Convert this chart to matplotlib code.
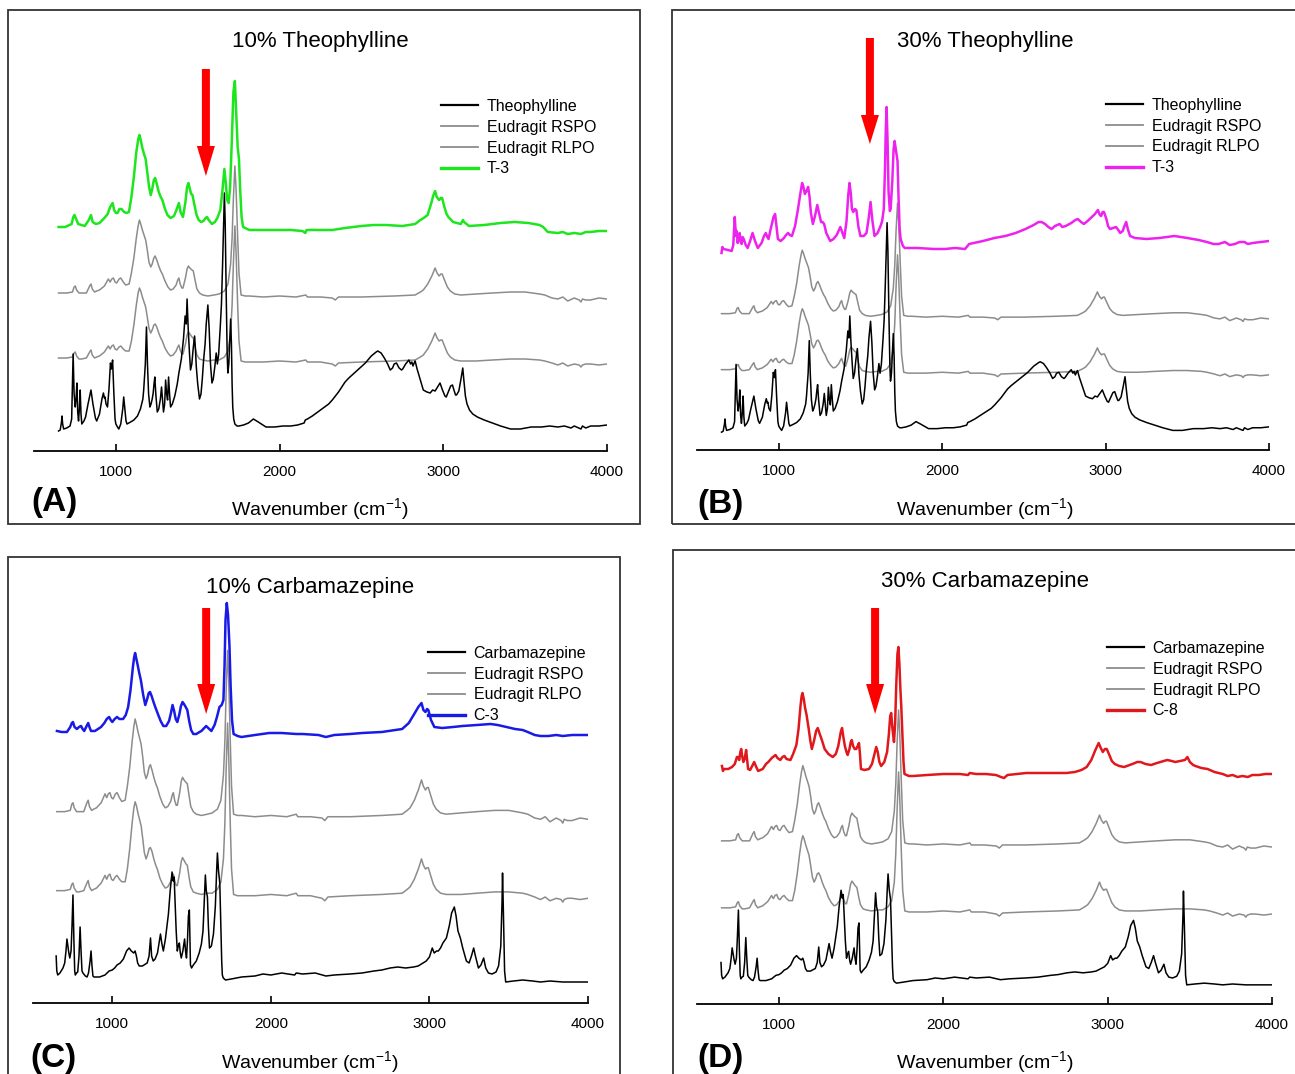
import matplotlib
matplotlib.use('Agg')
import matplotlib.pyplot as plt
from matplotlib.lines import Line2D
from matplotlib.patches import Rectangle

plt.rcParams['font.family'] = ['Liberation Sans', 'DejaVu Sans']
plt.rcParams['mathtext.fontset'] = 'custom'
plt.rcParams['mathtext.rm'] = 'Liberation Sans'
plt.rcParams['mathtext.it'] = 'Liberation Sans:italic'

W, H = 1295, 1074

# ---- spectra: (wavenumber cm-1, height above own baseline, arb. units) ----
theophylline = [
    (650, -7), (660, -6), (668, 2), (671, 8), (675, 0), (681, -5), (700, -4), (720, -2), (730, 5),
    (739, 70), (745, 30), (752, 17), (757, 25), (762, 41), (767, 12), (772, 3), (777, 15), (782, 34),
    (787, 10), (792, 0), (805, 3), (815, 7), (830, 20), (848, 34), (860, 20), (875, 6), (883, 3),
    (900, 10), (915, 25), (924, 31), (930, 26), (934, 27), (940, 20), (949, 17), (958, 35), (967, 61),
    (973, 55), (980, 64), (988, 30), (995, 5), (1000, 0), (1010, -3), (1018, -5), (1030, 0),
    (1042, 15), (1048, 27), (1055, 15), (1062, 3), (1068, 0), (1090, 2), (1110, 4), (1132, 8),
    (1150, 15), (1165, 25), (1170, 34), (1180, 60), (1187, 97), (1193, 60), (1200, 30), (1208, 17),
    (1215, 20), (1222, 25), (1228, 31), (1233, 40), (1238, 47), (1244, 30), (1253, 12), (1262, 15),
    (1272, 25), (1279, 37), (1285, 25), (1291, 12), (1298, 20), (1304, 44), (1310, 30), (1316, 24),
    (1322, 47), (1328, 30), (1334, 17), (1345, 20), (1360, 28), (1375, 40), (1385, 51), (1400, 65),
    (1413, 85), (1423, 108), (1430, 100), (1435, 125), (1442, 95), (1450, 70), (1456, 54),
    (1464, 60), (1472, 75), (1481, 88), (1486, 75), (1491, 58), (1500, 40), (1511, 25), (1520, 30),
    (1528, 45), (1536, 64), (1545, 80), (1552, 100), (1562, 119), (1570, 95), (1578, 60), (1587, 41),
    (1595, 45), (1605, 58), (1613, 71), (1620, 60), (1628, 70), (1638, 98), (1645, 120), (1652, 160),
    (1658, 200), (1663, 231), (1668, 200), (1674, 130), (1680, 70), (1684, 51), (1690, 60),
    (1696, 85), (1701, 105), (1706, 80), (1710, 40), (1714, 17), (1720, 5), (1727, 0), (1740, -2),
    (1752, -2), (1780, -1), (1810, 1), (1840, 5), (1870, 2), (1917, -3), (1970, -3), (2020, -2),
    (2068, -2), (2110, -1), (2150, 1), (2157, 4), (2170, 5), (2200, 8), (2250, 14), (2300, 20),
    (2322, 24), (2360, 32), (2400, 42), (2423, 46), (2450, 50), (2490, 56), (2524, 61), (2560, 68),
    (2590, 72), (2600, 73), (2620, 71), (2640, 66), (2660, 60), (2676, 54), (2690, 56), (2700, 60),
    (2714, 61), (2730, 56), (2745, 54), (2752, 55), (2770, 60), (2790, 64), (2800, 60), (2808, 62),
    (2815, 58), (2822, 61), (2828, 63), (2840, 55), (2860, 44), (2878, 34), (2900, 32), (2920, 31),
    (2935, 34), (2950, 33), (2965, 37), (2980, 41), (2995, 34), (3010, 28), (3018, 27), (3030, 32),
    (3045, 38), (3056, 39), (3065, 34), (3075, 29), (3081, 29), (3095, 33), (3108, 45), (3119, 56),
    (3125, 45), (3135, 28), (3145, 20), (3160, 14), (3180, 10), (3208, 7), (3250, 4), (3300, 1),
    (3350, -2), (3411, -5), (3470, -5), (3537, -3), (3600, -3), (3650, -2), (3700, -3), (3740, -2),
    (3780, -4), (3800, -2), (3841, -5), (3850, -2), (3870, -4), (3900, -2), (3950, -2), (4000, -1)]

carbamazepine = [
    (646, 25), (650, 10), (656, 6), (670, 8), (689, 13), (700, 18), (708, 30), (714, 42), (720, 35),
    (726, 28), (732, 23), (740, 30), (746, 55), (752, 86), (758, 40), (763, 10), (767, 6), (774, 8),
    (782, 9), (790, 25), (797, 54), (803, 30), (809, 10), (815, 8), (830, 5), (841, 4), (850, 8),
    (860, 20), (866, 30), (872, 15), (878, 5), (884, 4), (920, 4), (954, 6), (980, 10), (1000, 11),
    (1015, 13), (1030, 16), (1050, 18), (1070, 22), (1090, 30), (1106, 33), (1120, 30), (1135, 28),
    (1144, 30), (1152, 25), (1160, 18), (1170, 15), (1190, 15), (1210, 17), (1220, 18), (1232, 25),
    (1241, 43), (1248, 25), (1258, 20), (1270, 22), (1285, 28), (1295, 38), (1304, 47), (1312, 38),
    (1322, 30), (1335, 42), (1345, 55), (1354, 67), (1365, 90), (1377, 109), (1384, 100),
    (1390, 104), (1396, 80), (1403, 50), (1410, 30), (1416, 35), (1423, 38), (1429, 28), (1435, 23),
    (1445, 30), (1456, 42), (1462, 30), (1468, 23), (1474, 40), (1480, 65), (1486, 71), (1490, 40),
    (1493, 16), (1500, 13), (1511, 16), (1530, 20), (1548, 28), (1562, 37), (1572, 50), (1580, 80),
    (1587, 106), (1593, 90), (1600, 84), (1606, 55), (1613, 33), (1625, 35), (1638, 47), (1650, 75),
    (1658, 110), (1663, 128), (1670, 110), (1678, 98), (1684, 60), (1690, 20), (1694, 6), (1700, 3),
    (1714, 1), (1750, 2), (1815, 4), (1900, 5), (1950, 7), (2000, 6), (2068, 8), (2150, 6),
    (2160, 8), (2200, 7), (2280, 8), (2347, 5), (2400, 6), (2500, 7), (2575, 8), (2650, 10),
    (2700, 11), (2752, 13), (2800, 14), (2850, 13), (2900, 14), (2929, 15), (2960, 18), (2980, 20),
    (3000, 24), (3018, 33), (3030, 28), (3045, 30), (3056, 30), (3070, 33), (3085, 38), (3107, 43),
    (3125, 55), (3140, 68), (3157, 74), (3168, 65), (3180, 50), (3195, 43), (3210, 33), (3233, 20),
    (3250, 18), (3265, 25), (3279, 33), (3290, 25), (3309, 13), (3325, 16), (3342, 23), (3355, 13),
    (3372, 8), (3395, 7), (3420, 9), (3436, 15), (3450, 35), (3458, 80), (3461, 108), (3465, 80),
    (3469, 47), (3474, 10), (3481, -1), (3530, 0), (3588, 1), (3650, 0), (3700, -1), (3760, 0),
    (3841, -1), (3900, -1), (4000, -1)]

eudragit_rspo = [
    (650, 5), (700, 5), (735, 6), (745, 11), (752, 12), (760, 8), (775, 5), (790, 5), (820, 5),
    (840, 12), (848, 14), (856, 9), (870, 6), (883, 7), (900, 8), (930, 12), (954, 19), (965, 16),
    (975, 19), (985, 20), (995, 16), (1005, 15), (1020, 19), (1030, 20), (1045, 16), (1060, 13),
    (1081, 14), (1095, 25), (1110, 40), (1125, 60), (1136, 72), (1144, 78), (1152, 74), (1162, 68),
    (1172, 63), (1182, 58), (1192, 48), (1202, 36), (1213, 31), (1222, 34), (1232, 40), (1240, 42),
    (1250, 38), (1262, 32), (1274, 27), (1284, 24), (1300, 17), (1318, 11), (1334, 8), (1350, 9),
    (1368, 13), (1378, 18), (1385, 20), (1393, 14), (1403, 10), (1410, 10), (1425, 20), (1435, 29),
    (1443, 32), (1452, 30), (1465, 28), (1473, 27), (1485, 17), (1495, 9), (1511, 5), (1530, 3),
    (1562, 2), (1600, 3), (1630, 4), (1663, 7), (1685, 14), (1701, 34), (1710, 60), (1718, 100),
    (1727, 132), (1734, 110), (1744, 61), (1752, 25), (1765, 3), (1790, 2), (1815, 2), (1900, 1),
    (2000, 2), (2100, 1), (2160, 3), (2170, 1), (2250, 1), (2322, 0), (2340, -2), (2360, 1),
    (2500, 1), (2700, 2), (2828, 3), (2860, 6), (2878, 8), (2905, 14), (2930, 22), (2950, 30),
    (2962, 25), (2975, 22), (2985, 24), (2993, 24), (3010, 17), (3025, 11), (3043, 7), (3070, 4),
    (3107, 3), (3200, 4), (3300, 5), (3411, 6), (3500, 6), (3588, 4), (3620, 3), (3664, 0),
    (3700, -1), (3730, 1), (3760, -3), (3800, 0), (3830, -2), (3841, -4), (3850, -1), (3870, -2),
    (3900, -2), (3950, 0), (4000, -1)]

eudragit_rlpo = [
    (650, 5), (700, 5), (735, 6), (745, 10), (752, 11), (760, 7), (775, 4), (790, 4), (820, 5),
    (840, 11), (848, 13), (856, 8), (870, 5), (883, 6), (900, 7), (930, 11), (954, 17), (965, 14),
    (975, 17), (985, 18), (995, 14), (1005, 13), (1020, 16), (1030, 17), (1045, 14), (1060, 12),
    (1081, 12), (1095, 22), (1110, 38), (1125, 58), (1136, 70), (1144, 75), (1152, 72), (1162, 66),
    (1172, 61), (1182, 56), (1192, 46), (1202, 35), (1213, 30), (1222, 33), (1232, 38), (1240, 39),
    (1250, 36), (1262, 30), (1274, 25), (1284, 22), (1300, 15), (1318, 10), (1334, 7), (1350, 8),
    (1368, 12), (1378, 16), (1385, 18), (1393, 13), (1403, 9), (1410, 9), (1425, 19), (1435, 28),
    (1443, 31), (1452, 29), (1465, 26), (1473, 25), (1485, 15), (1495, 8), (1511, 4), (1530, 3),
    (1562, 2), (1600, 3), (1630, 3), (1663, 6), (1685, 12), (1701, 30), (1710, 58), (1718, 100),
    (1727, 137), (1734, 112), (1744, 58), (1752, 22), (1765, 2), (1790, 1), (1815, 1), (1900, 1),
    (2000, 2), (2100, 1), (2160, 3), (2170, 1), (2250, 1), (2322, -1), (2340, -3), (2360, 0),
    (2500, 1), (2700, 2), (2828, 3), (2860, 6), (2878, 8), (2905, 14), (2930, 22), (2950, 30),
    (2962, 25), (2975, 22), (2985, 23), (2993, 23), (3010, 16), (3025, 10), (3043, 6), (3070, 3),
    (3107, 2), (3200, 2), (3300, 3), (3411, 4), (3500, 4), (3588, 3), (3620, 2), (3664, 0),
    (3700, -2), (3730, 0), (3760, -3), (3800, -1), (3830, -2), (3841, -4), (3850, -2), (3870, -1),
    (3900, -1), (3950, -2), (4000, -1)]

t3_10 = [
    (650, 5), (690, 5), (730, 8), (740, 15), (747, 17), (755, 14), (770, 8), (790, 7), (810, 6),
    (835, 12), (848, 17), (858, 10), (878, 8), (900, 9), (930, 14), (950, 18), (965, 25), (980, 29),
    (990, 22), (1000, 19), (1010, 19), (1022, 23), (1035, 23), (1050, 20), (1065, 19), (1080, 20),
    (1095, 35), (1110, 55), (1125, 80), (1137, 93), (1144, 97), (1152, 92), (1162, 84), (1172, 78),
    (1182, 73), (1192, 60), (1203, 45), (1213, 37), (1222, 43), (1232, 52), (1240, 54), (1250, 48),
    (1262, 40), (1274, 35), (1284, 32), (1298, 24), (1315, 17), (1334, 14), (1355, 16), (1370, 22),
    (1385, 29), (1395, 20), (1410, 15), (1425, 30), (1435, 45), (1443, 49), (1452, 43), (1460, 38),
    (1468, 37), (1480, 27), (1493, 17), (1506, 12), (1520, 10), (1535, 11), (1548, 14), (1557, 15),
    (1567, 12), (1587, 8), (1605, 10), (1620, 14), (1638, 22), (1650, 40), (1663, 63), (1672, 48),
    (1680, 32), (1689, 29), (1698, 45), (1708, 90), (1718, 140), (1727, 151), (1735, 120),
    (1744, 85), (1752, 73), (1760, 40), (1768, 15), (1777, 5), (1815, 2), (1900, 2), (2000, 2),
    (2068, 2), (2140, 1), (2157, -1), (2165, 2), (2250, 2), (2322, 2), (2400, 4), (2500, 6),
    (2575, 7), (2650, 7), (2750, 6), (2828, 8), (2860, 12), (2880, 14), (2904, 17), (2925, 28),
    (2940, 37), (2950, 41), (2960, 35), (2975, 32), (2985, 34), (2993, 34), (3005, 26), (3020, 18),
    (3031, 15), (3060, 10), (3107, 8), (3120, 12), (3127, 10), (3157, 6), (3250, 7), (3350, 9),
    (3436, 10), (3520, 9), (3588, 7), (3610, 5), (3638, 0), (3700, -1), (3730, 0), (3760, -2),
    (3800, -1), (3841, -2), (3870, 0), (3900, 0), (3950, 1), (4000, 1)]

t3_30 = [
    (650, -12), (655, -6), (662, -8), (690, -9), (712, -10), (722, -4), (731, 24), (738, 5),
    (743, 10), (749, -2), (755, 5), (761, 8), (767, -1), (773, -3), (779, 4), (786, 2), (798, -4),
    (810, -7), (825, 0), (840, 8), (855, 0), (872, -7), (895, -2), (910, 5), (921, 8), (930, 4),
    (938, 2), (948, 10), (958, 17), (968, 24), (978, 27), (986, 15), (995, 2), (1012, 0), (1032, 3),
    (1045, 6), (1057, 8), (1068, 6), (1081, 5), (1100, 15), (1118, 32), (1130, 45), (1143, 58),
    (1150, 55), (1160, 47), (1170, 50), (1180, 54), (1188, 45), (1197, 28), (1209, 17), (1222, 25),
    (1236, 36), (1247, 28), (1259, 19), (1268, 19), (1278, 17), (1291, 8), (1303, 4), (1315, 0),
    (1335, 2), (1355, 6), (1377, 14), (1390, 8), (1401, 3), (1415, 20), (1425, 45), (1433, 58),
    (1441, 48), (1448, 32), (1456, 29), (1466, 32), (1475, 31), (1488, 14), (1500, 5), (1520, 5),
    (1537, 8), (1550, 22), (1562, 39), (1572, 22), (1586, 5), (1605, 8), (1623, 15), (1633, 20),
    (1643, 32), (1650, 70), (1655, 110), (1660, 134), (1666, 100), (1672, 50), (1680, 30),
    (1685, 32), (1695, 60), (1703, 92), (1709, 100), (1716, 92), (1727, 80), (1733, 45), (1740, 12),
    (1746, 2), (1760, -5), (1771, -7), (1850, -7), (1950, -8), (2017, -8), (2080, -7), (2140, -8),
    (2150, -6), (2165, -3), (2250, 0), (2320, 3), (2387, 5), (2450, 8), (2510, 12), (2560, 16),
    (2590, 19), (2608, 19), (2630, 17), (2650, 14), (2670, 12), (2690, 15), (2705, 16), (2719, 17),
    (2735, 14), (2756, 15), (2790, 18), (2815, 21), (2830, 22), (2850, 19), (2867, 17), (2890, 20),
    (2916, 24), (2935, 27), (2953, 31), (2965, 26), (2973, 25), (2982, 29), (2990, 29), (3005, 22),
    (3015, 15), (3027, 12), (3045, 13), (3064, 14), (3078, 11), (3089, 8), (3105, 10), (3118, 16),
    (3126, 19), (3136, 12), (3150, 5), (3180, 3), (3249, 2), (3330, 3), (3421, 5), (3500, 3),
    (3569, 1), (3620, -1), (3660, -3), (3692, -3), (3730, -1), (3760, -4), (3791, -3), (3820, -1),
    (3850, -1), (3870, -3), (3900, -2), (3950, -1), (4000, 0)]

c3 = [
    (651, 4), (680, 3), (714, 3), (735, 8), (745, 12), (752, 13), (762, 8), (777, 6), (790, 8),
    (803, 9), (813, 6), (823, 4), (835, 8), (848, 12), (856, 8), (866, 4), (890, 4), (910, 6),
    (929, 8), (950, 12), (965, 16), (980, 18), (990, 15), (1000, 13), (1015, 16), (1030, 18),
    (1045, 16), (1068, 16), (1085, 20), (1100, 28), (1115, 45), (1130, 68), (1138, 78), (1144, 82),
    (1152, 76), (1160, 70), (1170, 62), (1180, 55), (1195, 40), (1208, 30), (1220, 36), (1230, 42),
    (1238, 43), (1248, 39), (1260, 33), (1271, 28), (1290, 20), (1305, 14), (1322, 9), (1340, 9),
    (1358, 14), (1370, 22), (1380, 30), (1390, 24), (1400, 16), (1410, 13), (1422, 20), (1433, 29),
    (1443, 33), (1452, 31), (1463, 28), (1473, 25), (1485, 14), (1497, 5), (1511, 1), (1530, 1),
    (1550, 3), (1562, 4), (1580, 7), (1592, 9), (1605, 7), (1625, 4), (1645, 10), (1660, 18),
    (1676, 28), (1690, 30), (1701, 35), (1708, 70), (1714, 115), (1722, 132), (1730, 120),
    (1739, 89), (1746, 50), (1755, 15), (1765, 1), (1790, -1), (1815, -2), (1900, 0), (1990, 2),
    (2068, 2), (2160, 1), (2200, 1), (2300, 0), (2347, -2), (2400, 0), (2500, 1), (2575, 2),
    (2700, 3), (2828, 6), (2870, 12), (2904, 21), (2930, 28), (2950, 32), (2962, 25), (2975, 23),
    (2985, 26), (2993, 25), (3010, 15), (3031, 8), (3080, 7), (3150, 8), (3208, 9), (3300, 10),
    (3385, 11), (3430, 10), (3486, 8), (3540, 6), (3588, 5), (3620, 3), (3664, 0), (3700, -1),
    (3750, -1), (3800, 0), (3841, -1), (3900, 0), (4000, 0)]

c8 = [
    (652, 8), (658, 3), (664, 5), (690, 5), (713, 7), (730, 10), (743, 17), (750, 17), (757, 14),
    (764, 22), (769, 25), (775, 18), (782, 12), (790, 15), (799, 24), (805, 15), (811, 5), (823, 4),
    (836, 8), (848, 12), (858, 8), (872, 3), (900, 5), (920, 10), (934, 12), (955, 16), (970, 18),
    (978, 19), (990, 16), (1007, 14), (1020, 17), (1032, 18), (1045, 15), (1069, 14), (1085, 20),
    (1105, 29), (1118, 45), (1130, 68), (1137, 78), (1142, 81), (1150, 75), (1158, 66), (1167, 59),
    (1180, 45), (1190, 33), (1199, 25), (1212, 33), (1225, 43), (1235, 46), (1245, 41), (1258, 35),
    (1277, 25), (1300, 20), (1326, 17), (1345, 20), (1360, 28), (1375, 42), (1383, 46), (1390, 38),
    (1400, 28), (1410, 22), (1417, 19), (1428, 25), (1436, 32), (1442, 34), (1450, 28), (1460, 25),
    (1469, 25), (1478, 28), (1486, 31), (1492, 20), (1498, 5), (1520, 4), (1547, 5), (1565, 10),
    (1580, 20), (1591, 27), (1600, 22), (1610, 12), (1621, 8), (1640, 12), (1657, 22), (1668, 40),
    (1676, 58), (1682, 61), (1690, 45), (1699, 32), (1706, 50), (1712, 85), (1720, 120), (1726, 127),
    (1732, 110), (1738, 85), (1743, 69), (1750, 40), (1757, 12), (1763, 0), (1790, -2), (1817, -2),
    (1900, -1), (2000, 0), (2100, 0), (2150, -1), (2160, 1), (2200, 0), (2258, 0), (2320, -1),
    (2350, -3), (2369, -4), (2390, -1), (2450, 0), (2504, 1), (2600, 1), (2700, 1), (2749, 1),
    (2800, 2), (2840, 4), (2872, 7), (2900, 14), (2925, 24), (2945, 31), (2955, 27), (2970, 22),
    (2983, 25), (2994, 25), (3010, 19), (3025, 13), (3043, 10), (3070, 8), (3100, 7), (3117, 8),
    (3150, 10), (3180, 12), (3200, 12), (3230, 10), (3264, 9), (3300, 11), (3340, 13), (3362, 14),
    (3390, 13), (3411, 12), (3440, 13), (3470, 14), (3485, 17), (3500, 12), (3520, 9), (3534, 8),
    (3570, 6), (3608, 5), (3650, 2), (3700, 0), (3730, -2), (3760, -1), (3790, -3), (3820, -2),
    (3853, -3), (3880, -1), (3920, -1), (3960, 0), (4000, 0)]

GRAY = '#8c8c8c'

# panel layout in reference pixels: x of 500 cm-1, x of 4000 cm-1, axis line y, top y
panels = [
    dict(tag='(A)', title='10% Theophylline', box=(8, 10, 640, 524), L=34, R=607, Y=451, T=10,
         drug=('Theophylline', theophylline, 27, 1.0), eud=(153, 88, 1.0),
         mix=('T-3', t3_10, 219, '#1ee61e'), arrow=(1550, 69, 146, 176),
         title_xy=(320, 42), leg_xy=(441, 99), xlab_xy=(320, 509), tag_xy=(31, 503)),
    dict(tag='(B)', title='30% Theophylline', box=(672, 10, 1310, 524), L=697, R=1269, Y=450, T=10,
         drug=('Theophylline', theophylline, 24, 0.88), eud=(132, 76, 0.87),
         mix=('T-3', t3_30, 209, '#ee22ee'), arrow=(1558, 38, 115, 144),
         title_xy=(985, 41), leg_xy=(1106, 98), xlab_xy=(985, 509), tag_xy=(697, 505)),
    dict(tag='(C)', title='10% Carbamazepine', box=(8, 557, 620, 1090), L=33, R=588, Y=1003, T=557,
         drug=('Carbamazepine', carbamazepine, 22, 1.0), eud=(185, 106, 1.27),
         mix=('C-3', c3, 268, '#1a1ae6'), arrow=(1592, 608, 684, 714),
         title_xy=(310, 588), leg_xy=(428, 646), xlab_xy=(310, 1062), tag_xy=(30, 1058)),
    dict(tag='(D)', title='30% Carbamazepine', box=(673, 550, 1310, 1090), L=697, R=1272, Y=1004, T=550,
         drug=('Carbamazepine', carbamazepine, 20, 0.86), eud=(158, 91, 1.03),
         mix=('C-8', c8, 230, '#e0181c'), arrow=(1584, 608, 684, 714),
         title_xy=(985, 582), leg_xy=(1107, 641), xlab_xy=(985, 1062), tag_xy=(697, 1058)),
]


def fx(x):
    return x / W


def fy(y):
    return 1 - y / H


def draw(ax, spectrum, base, scale, **kw):
    wn = [p[0] for p in spectrum]
    ab = [base + scale * p[1] for p in spectrum]
    ax.plot(wn, ab, solid_joinstyle='round', **kw)


fig = plt.figure(figsize=(W / 100, H / 100), dpi=100)

for p in panels:
    x0, y0, x1, y1 = p['box']
    fig.patches.append(Rectangle((fx(x0), fy(y1)), fx(x1 - x0), (y1 - y0) / H,
                                 transform=fig.transFigure, fill=False, lw=1.3,
                                 edgecolor='#333333', zorder=0))

    ax = fig.add_axes([fx(p['L']), fy(p['Y']), fx(p['R'] - p['L']), (p['Y'] - p['T']) / H])
    ax.set_xlim(500, 4000)
    ax.set_ylim(0, p['Y'] - p['T'])
    ax.patch.set_alpha(0)
    for s in ['top', 'left', 'right']:
        ax.spines[s].set_visible(False)
    ax.spines['bottom'].set_linewidth(1.3)
    ax.set_yticks([])
    ax.set_xticks([1000, 2000, 3000, 4000])
    ax.tick_params(axis='x', direction='in', length=5, width=1.2, pad=10, labelsize=11)

    dname, dspec, dbase, dscale = p['drug']
    rs_base, rl_base, escale = p['eud']
    mname, mspec, mbase, mcol = p['mix']

    draw(ax, dspec, dbase, dscale, color='black', lw=1.1, zorder=3)
    draw(ax, eudragit_rspo, rs_base, escale, color=GRAY, lw=1.1, zorder=2)
    draw(ax, eudragit_rlpo, rl_base, escale, color=GRAY, lw=1.1, zorder=2)
    draw(ax, mspec, mbase, 1.0, color=mcol, lw=1.8, zorder=4)

    # red arrow marking the band of interest
    wn, ytop, yhead, ytip = p['arrow']
    ppu = (p['R'] - p['L']) / 3500.0
    ax.arrow(wn, p['Y'] - ytop, 0, -(ytip - ytop), width=8 / ppu, head_width=18 / ppu,
             head_length=(ytip - yhead), length_includes_head=True, color='#ff0000',
             lw=0, zorder=6)

    handles = [Line2D([], [], color='black', lw=1.6),
               Line2D([], [], color=GRAY, lw=1.3),
               Line2D([], [], color=GRAY, lw=1.3),
               Line2D([], [], color=mcol, lw=2.4)]
    labels = [dname, 'Eudragit RSPO', 'Eudragit RLPO', mname]
    lx, ly = p['leg_xy']
    ax.legend(handles, labels, loc='upper left', bbox_to_anchor=(fx(lx), fy(ly)),
              bbox_transform=fig.transFigure, frameon=False, fontsize=11.5,
              handlelength=2.3, handletextpad=0.55, labelspacing=0.36,
              borderpad=0, borderaxespad=0)

    tx, ty = p['title_xy']
    fig.text(fx(tx), fy(ty), p['title'], ha='center', va='center', fontsize=16)
    xx, xy = p['xlab_xy']
    fig.text(fx(xx), fy(xy), 'Wavenumber (cm$^{-1}$)', ha='center', va='center', fontsize=14)
    gx, gy = p['tag_xy']
    fig.text(fx(gx), fy(gy), p['tag'], ha='left', va='center', fontsize=24, fontweight='bold')

fig.savefig('out.png', dpi=100)
